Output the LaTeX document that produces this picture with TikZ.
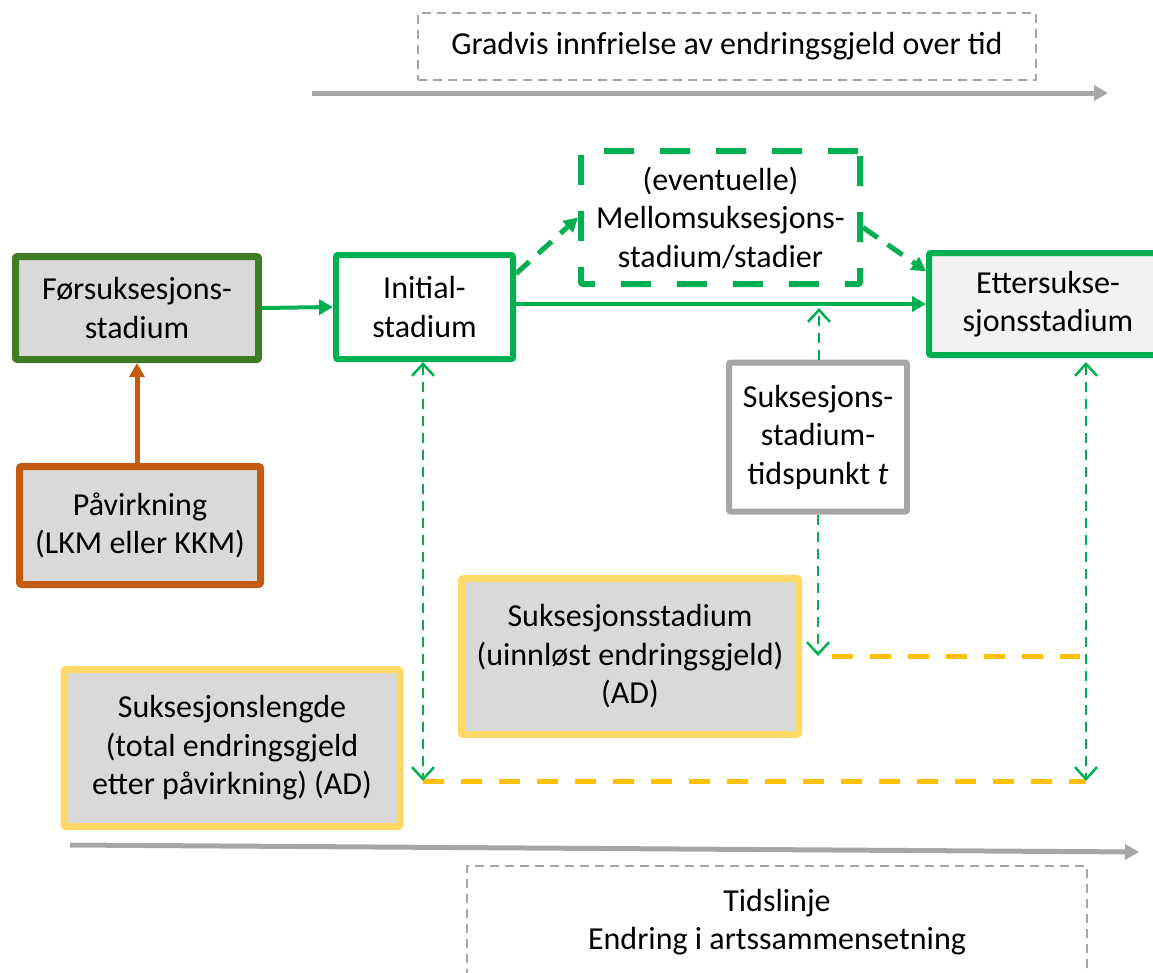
\documentclass[tikz,border=0pt]{standalone}
\usepackage{fontspec}
\setmainfont{Carlito}
\usetikzlibrary{arrows.meta}
\usetikzlibrary{calc}

\definecolor{grn}{HTML}{00B050}
\definecolor{dkgrn}{RGB}{62,125,38}
\definecolor{orng}{HTML}{C55A11}
\definecolor{ylw}{HTML}{FFD966}
\definecolor{gold}{HTML}{FFC000}
\definecolor{midgray}{HTML}{A6A6A6}
\definecolor{boxgray}{HTML}{D9D9D9}
\definecolor{paleg}{HTML}{F2F2F2}

\tikzset{
  stadbox/.style={draw, align=center, inner sep=0pt, rounded corners=2pt,
    font=\fontsize{32}{38.5}\selectfont},
  tidbox/.style={draw=midgray, line width=1.5pt, dash pattern=on 9pt off 6pt,
    align=center, inner sep=0pt, font=\fontsize{32}{38.5}\selectfont},
  pil/.style={grn, line width=4pt, arrows={-Triangle[length=14pt,width=15pt]}},
  stiplpil/.style={grn, line width=5pt, dash pattern=on 18pt off 12pt,
    arrows={-Triangle[length=14pt,width=15pt]}},
  tynnpil/.style={grn, line width=2.5pt, dash pattern=on 10pt off 7pt,
    arrows={-Straight Barb[length=12pt,width=22pt]}},
  gullinje/.style={gold, line width=5pt, dash pattern=on 21pt off 17pt},
}

\begin{document}
\begin{tikzpicture}[x=1pt, y=-1pt]
  \useasboundingbox (0,0) rectangle (1153,972);

  % tidslinjer
  \node[tidbox, minimum width=618pt, minimum height=67pt] (gradvis) at (727,46.5)
    {Gradvis innfrielse av endringsgjeld over tid};
  \node[tidbox, minimum width=620pt, minimum height=112pt] (tidslinje) at (777,922)
    {Tidslinje\\Endring i artssammensetning};
  \coordinate (topA) at (312,93);
  \coordinate (topB) at (1108,93);
  \coordinate (botA) at (70,845);
  \coordinate (botB) at (1139,852);
  \draw[midgray, line width=5pt, arrows={-Triangle[length=14pt,width=15pt]}] (topA) -- (topB);
  \draw[midgray, line width=5pt, arrows={-Triangle[length=14pt,width=15pt]}] (botA) -- (botB);

  % stadier
  \node[stadbox, draw=dkgrn, fill=boxgray, line width=7pt, minimum width=243pt, minimum height=103pt]
    (fore) at (137,308) {Førsuksesjons-\\stadium};
  \node[stadbox, draw=orng, fill=boxgray, line width=7pt, minimum width=241pt, minimum height=118pt]
    (paav) at (140,525.5) {Påvirkning\\(LKM eller KKM)};
  \node[stadbox, draw=grn, fill=white, line width=6pt, minimum width=177pt, minimum height=104pt]
    (init) at (424.5,307) {Initial-\\stadium};
  \node[stadbox, draw=grn, fill=white, line width=6pt, dash pattern=on 30pt off 26pt,
    minimum width=279pt, minimum height=133pt]
    (mellom) at (720.5,217.5) {(eventuelle)\\Mellomsuksesjons-\\stadium/stadier};
  \node[stadbox, draw=grn, fill=paleg, line width=6pt, minimum width=238pt, minimum height=102pt]
    (etter) at (1048,304) {Ettersukse-\\sjonsstadium};
  \node[stadbox, draw=midgray, fill=white, line width=6pt, minimum width=178pt, minimum height=149pt]
    (tidsp) at (818,437) {Suksesjons-\\stadium-\\tidspunkt \textit{t}};
  \node[stadbox, draw=ylw, fill=boxgray, line width=7pt, minimum width=337pt, minimum height=156pt]
    (uinn) at (630,656.5) {Suksesjonsstadium\\(uinnløst endringsgjeld)\\(AD)};
  \node[stadbox, draw=ylw, fill=boxgray, line width=7pt, minimum width=336pt, minimum height=157pt]
    (lengde) at (232,748) {Suksesjonslengde\\(total endringsgjeld\\etter påvirkning) (AD)};

  % piler mellom stadier
  \draw[orng, line width=5pt, arrows={-Triangle[length=14pt,width=15pt]}]
    (paav.north -| fore.south) -- (fore.south);
  \draw[pil] (fore.east) -- (init.west);
  \draw[pil] (init.east |- etter.west) -- (etter.west);
  \draw[stiplpil] (init.20) -- (mellom.west);
  \draw[stiplpil] (mellom.-4) -- (etter.165);

  % tidspunkt og lengder
  \coordinate (linjeT) at (819,308);
  \coordinate (uinnA) at (832,656);
  \coordinate (uinnB) at (1080,656);
  \coordinate (etterA) at (1086,362);
  \coordinate (etterB) at (1086,781);
  \coordinate (initB) at (423,781);
  \draw[tynnpil] (tidsp.north -| linjeT) -- (linjeT);
  \draw[tynnpil] (tidsp.south) -- (tidsp.south |- uinnA);
  \draw[gullinje] (uinnA) -- (uinnB);
  \draw[gullinje] (initB) -- (etterB);
  \draw[tynnpil, arrows={Straight Barb[length=12pt,width=22pt]-Straight Barb[length=12pt,width=22pt]}]
    (init.south -| initB) -- (initB);
  \draw[tynnpil, arrows={Straight Barb[length=12pt,width=22pt]-Straight Barb[length=12pt,width=22pt]}]
    (etterA) -- (etterB);
\end{tikzpicture}
\end{document}
